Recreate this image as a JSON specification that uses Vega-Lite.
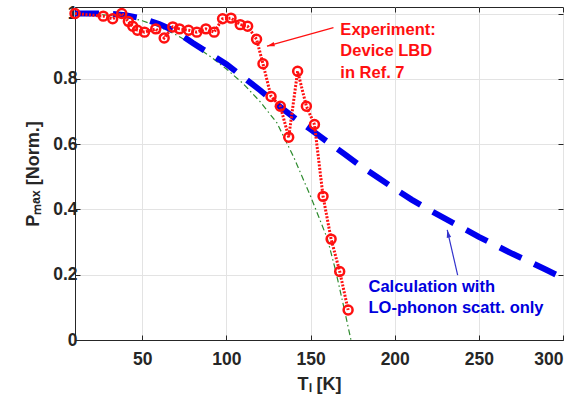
{
  "$schema": "https://vega.github.io/schema/vega-lite/v6.json",
  "width": 488,
  "height": 333,
  "autosize": "none",
  "padding": {"left": 75, "top": 7, "right": 16, "bottom": 65},
  "background": "white",
  "datasets": {
    "exp": [
      {"T": 10, "P": 1.0}, {"T": 26.8, "P": 0.992}, {"T": 32.4, "P": 0.984}, {"T": 37.8, "P": 1.0},
      {"T": 41.7, "P": 0.976}, {"T": 44.3, "P": 0.961}, {"T": 47.1, "P": 0.949}, {"T": 51.3, "P": 0.943},
      {"T": 58.0, "P": 0.953}, {"T": 63.0, "P": 0.925}, {"T": 68.1, "P": 0.959}, {"T": 72.1, "P": 0.953},
      {"T": 77.5, "P": 0.949}, {"T": 82.4, "P": 0.943}, {"T": 87.8, "P": 0.953}, {"T": 92.7, "P": 0.943},
      {"T": 97.7, "P": 0.984}, {"T": 102.7, "P": 0.986}, {"T": 108.2, "P": 0.966}, {"T": 112.6, "P": 0.961},
      {"T": 117.9, "P": 0.921}, {"T": 121.7, "P": 0.846}, {"T": 126.5, "P": 0.746}, {"T": 132.0, "P": 0.716},
      {"T": 137.0, "P": 0.621}, {"T": 142.3, "P": 0.823}, {"T": 147.5, "P": 0.716}, {"T": 152.3, "P": 0.66},
      {"T": 157.4, "P": 0.44}, {"T": 162.2, "P": 0.309}, {"T": 167.3, "P": 0.21}, {"T": 172.3, "P": 0.092}
    ],
    "calc": [
      {"T": 10, "P": 1.0}, {"T": 20, "P": 1.0}, {"T": 30, "P": 1.0}, {"T": 40, "P": 0.995},
      {"T": 50, "P": 0.985}, {"T": 60, "P": 0.968}, {"T": 70, "P": 0.945}, {"T": 80, "P": 0.91},
      {"T": 90, "P": 0.877}, {"T": 100, "P": 0.845}, {"T": 110, "P": 0.805}, {"T": 120, "P": 0.765},
      {"T": 130, "P": 0.722}, {"T": 140, "P": 0.682}, {"T": 150, "P": 0.645}, {"T": 160, "P": 0.607},
      {"T": 170, "P": 0.57}, {"T": 180, "P": 0.532}, {"T": 190, "P": 0.498}, {"T": 200, "P": 0.463},
      {"T": 210, "P": 0.43}, {"T": 220, "P": 0.4}, {"T": 230, "P": 0.372}, {"T": 240, "P": 0.344},
      {"T": 250, "P": 0.316}, {"T": 260, "P": 0.29}, {"T": 270, "P": 0.264}, {"T": 280, "P": 0.24},
      {"T": 290, "P": 0.215}, {"T": 300, "P": 0.19}
    ],
    "model": [
      {"T": 10, "P": 1.0}, {"T": 20, "P": 0.998}, {"T": 30, "P": 0.995}, {"T": 40, "P": 0.99},
      {"T": 50, "P": 0.978}, {"T": 60, "P": 0.96}, {"T": 70, "P": 0.935}, {"T": 80, "P": 0.905},
      {"T": 90, "P": 0.87}, {"T": 100, "P": 0.83}, {"T": 110, "P": 0.785}, {"T": 120, "P": 0.73},
      {"T": 130, "P": 0.665}, {"T": 140, "P": 0.56}, {"T": 145, "P": 0.5}, {"T": 150, "P": 0.44},
      {"T": 155, "P": 0.375}, {"T": 160, "P": 0.31}, {"T": 165, "P": 0.21}, {"T": 170, "P": 0.095},
      {"T": 174, "P": 0.0}
    ],
    "arrows": [
      {"who": "exp", "T": 163.6, "P": 0.957, "T2": 124.1, "P2": 0.9},
      {"who": "calc", "T": 237.4, "P": 0.199, "T2": 231.2, "P2": 0.337}
    ],
    "notes": [
      {"who": "exp", "T": 167.7, "P": 0.951, "label": "Experiment:"},
      {"who": "exp", "T": 167.7, "P": 0.885, "label": "Device LBD"},
      {"who": "exp", "T": 167.7, "P": 0.818, "label": "in Ref. 7"},
      {"who": "calc", "T": 184.4, "P": 0.163, "label": "Calculation with"},
      {"who": "calc", "T": 184.4, "P": 0.098, "label": "LO-phonon scatt. only"}
    ]
  },
  "layer": [
    {
      "encoding": {
        "x": {
          "field": "T", "type": "quantitative",
          "scale": {"domain": [10, 300], "nice": false, "zero": false},
          "axis": {"title": "Tₗ [K]", "values": [50, 100, 150, 200, 250, 300], "grid": true, "tickSize": -5, "labelPadding": 15, "titlePadding": 8}
        },
        "y": {
          "field": "P", "type": "quantitative",
          "scale": {"domain": [0, 1.02], "nice": false, "zero": false},
          "axis": {"title": "Pₘₐₓ [Norm.]", "values": [0, 0.2, 0.4, 0.6, 0.8, 1], "format": "~g", "grid": true, "tickSize": -5, "labelPadding": 3, "titlePadding": 10}
        }
      },
      "layer": [
        {
          "data": {"name": "model"},
          "mark": {"type": "line", "color": "#2e8b2e", "strokeWidth": 1.2, "strokeDash": [6, 3, 1.5, 3], "clip": true}
        },
        {
          "data": {"name": "calc"},
          "mark": {"type": "line", "color": "#0000ee", "strokeWidth": 6, "strokeDash": [24, 14], "clip": true}
        },
        {
          "data": {"name": "exp"},
          "mark": {"type": "line", "color": "#ff1010", "strokeWidth": 3, "strokeDash": [2, 1.5]}
        },
        {
          "data": {"name": "exp"},
          "mark": {"type": "point", "shape": "circle", "color": "#ff1010", "filled": false, "strokeWidth": 2.5, "size": 80, "opacity": 1}
        },
        {
          "data": {"name": "arrows"},
          "transform": [{"filter": "datum.who === 'exp'"}],
          "mark": {"type": "rule", "color": "#ff1010", "strokeWidth": 1.2},
          "encoding": {"x2": {"field": "T2"}, "y2": {"field": "P2"}}
        },
        {
          "data": {"name": "arrows"},
          "transform": [{"filter": "datum.who === 'exp'"}],
          "mark": {"type": "point", "shape": "M0,0L-0.5,1.7L0.5,1.7Z", "filled": true, "color": "#ff1010", "size": 80, "angle": 254, "opacity": 1},
          "encoding": {"x": {"field": "T2", "type": "quantitative"}, "y": {"field": "P2", "type": "quantitative"}}
        },
        {
          "data": {"name": "arrows"},
          "transform": [{"filter": "datum.who === 'calc'"}],
          "mark": {"type": "rule", "color": "#3333cc", "strokeWidth": 1.2},
          "encoding": {"x2": {"field": "T2"}, "y2": {"field": "P2"}}
        },
        {
          "data": {"name": "arrows"},
          "transform": [{"filter": "datum.who === 'calc'"}],
          "mark": {"type": "point", "shape": "M0,0L-0.5,1.7L0.5,1.7Z", "filled": true, "color": "#3333cc", "size": 80, "angle": 347, "opacity": 1},
          "encoding": {"x": {"field": "T2", "type": "quantitative"}, "y": {"field": "P2", "type": "quantitative"}}
        },
        {
          "data": {"name": "notes"},
          "transform": [{"filter": "datum.who === 'exp'"}],
          "mark": {"type": "text", "align": "left", "baseline": "middle", "font": "Liberation Sans", "fontWeight": "bold", "fontSize": 16.5, "color": "#ff1010"},
          "encoding": {"text": {"field": "label"}}
        },
        {
          "data": {"name": "notes"},
          "transform": [{"filter": "datum.who === 'calc'"}],
          "mark": {"type": "text", "align": "left", "baseline": "middle", "font": "Liberation Sans", "fontWeight": "bold", "fontSize": 16.5, "color": "#0000dd"},
          "encoding": {"text": {"field": "label"}}
        }
      ]
    },
    {
      "data": {"name": "calc"},
      "mark": {"type": "line", "opacity": 0},
      "encoding": {
        "x": {
          "field": "T", "type": "quantitative",
          "scale": {"domain": [10, 300], "nice": false, "zero": false},
          "axis": {"orient": "top", "labels": false, "title": null, "grid": false, "domain": false, "values": [50, 100, 150, 200, 250, 300], "tickSize": -5}
        },
        "y": {
          "field": "P", "type": "quantitative",
          "scale": {"domain": [0, 1.02], "nice": false, "zero": false},
          "axis": {"orient": "right", "labels": false, "title": null, "grid": false, "domain": false, "values": [0, 0.2, 0.4, 0.6, 0.8, 1], "tickSize": -5}
        }
      }
    }
  ],
  "resolve": {"axis": {"x": "independent", "y": "independent"}},
  "config": {
    "view": {"stroke": "#262626", "strokeWidth": 1},
    "axis": {
      "gridColor": "#e3e3e3", "gridWidth": 1,
      "domainColor": "#262626", "tickColor": "#262626",
      "labelFont": "Liberation Sans", "labelFontSize": 17.5, "labelFontWeight": "bold", "labelColor": "#262626",
      "titleFont": "Liberation Sans", "titleFontSize": 18, "titleFontWeight": "bold", "titleColor": "#262626"
    }
  }
}
